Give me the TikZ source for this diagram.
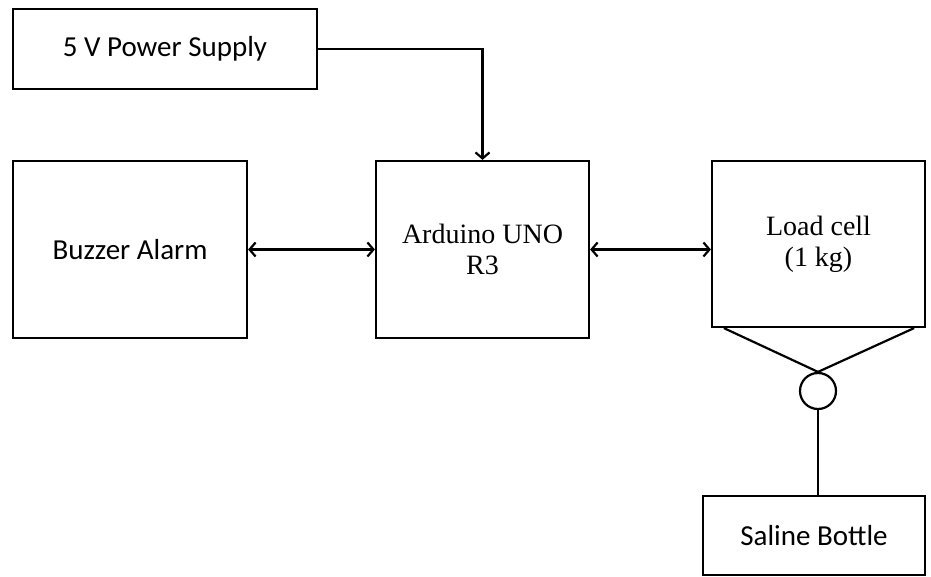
\documentclass[tikz,border=0pt]{standalone}
\usepackage{fontspec}
\setmainfont{Liberation Serif}
\newfontfamily\calibri{Carlito}
\usetikzlibrary{positioning,arrows.meta}
\tikzstyle{block} = [rectangle, draw=black, line width=2.2pt, text centered, align=center, font=\fontsize{28}{31}\selectfont]
\tikzstyle{sansblock} = [block, font=\calibri\fontsize{29}{31}\selectfont]
\tikzstyle{arrow} = [line width=2.2pt,->,>={Straight Barb[length=6pt,width=14pt]}]
\tikzstyle{link} = [line width=2.2pt]

\begin{document}
\begin{tikzpicture}[x=1pt,y=1pt]
\useasboundingbox (0,0) rectangle (931,-577);
\node (power) at (165,-49) [sansblock,
minimum width=304pt, minimum height=80pt] {5 V Power Supply};
%
\node (buzzer) at (130,-249.5) [sansblock,
minimum width=234pt, minimum height=177pt] {Buzzer Alarm};
%
\node (arduino) at (482.5,-249.5) [block,
minimum width=213pt, minimum height=177pt] {Arduino UNO\\R3};
%
\node (cell) at (818.5,-244) [block,
minimum width=213pt, minimum height=166pt] {Load cell\\(1 kg)};
%
\node (hook) at (818,-391) [circle, draw=black, line width=2.2pt,
minimum size=36pt, inner sep=0pt] {};
%
\node (saline) at (814,-535.5) [sansblock,
minimum width=222pt, minimum height=79pt] {Saline Bottle};

\draw [arrow] (power.east) -| (arduino.north);
\draw [arrow, <->] (buzzer.east) -- (arduino.west);
\draw [arrow, <->] (arduino.east) -- (arduino.east -| cell.west);
\draw [link] ([xshift=13pt]cell.south west) -- (hook.north) -- ([xshift=-12pt]cell.south east);
\draw [link] (hook.south) -- (saline.north -| hook.south);

\end{tikzpicture}
\end{document}
